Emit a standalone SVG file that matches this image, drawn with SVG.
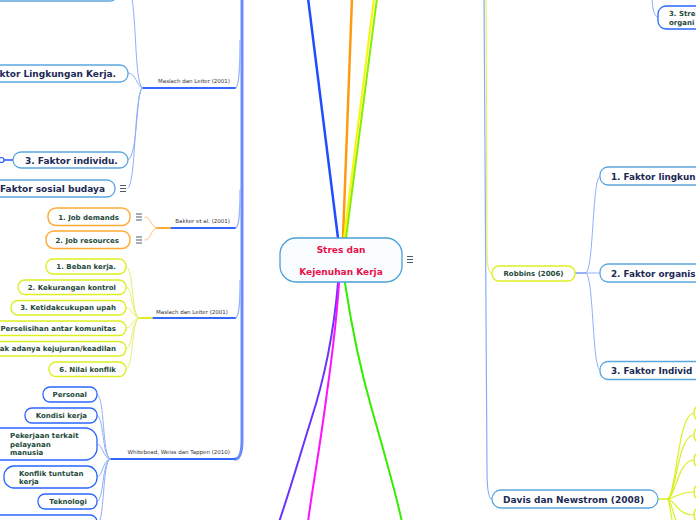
<svg xmlns="http://www.w3.org/2000/svg" width="696" height="520" viewBox="0 0 696 520">
<style>
.bg{fill:#ffffff}
.big{fill:#ffffff;stroke:#5aa6e0;stroke-width:1.3}
.bl{fill:#ffffff;stroke:#2a66ff;stroke-width:1.3}
.yl{fill:#ffffff;stroke:#dcf020;stroke-width:1.4}
.or{fill:#ffffff;stroke:#ffaa33;stroke-width:1.4}
.tbig{font-family:"DejaVu Sans","Verdana",sans-serif;font-weight:bold;font-size:9px;fill:#1c2a55}
.tedge{font-size:8.8px}
.tsm{font-family:"DejaVu Sans","Verdana",sans-serif;font-weight:bold;font-size:7px;fill:#1e4a3c}
.tlab{font-family:"DejaVu Sans","Verdana",sans-serif;font-size:5.5px;fill:#333333}
.tc{font-family:"DejaVu Sans","Verdana",sans-serif;font-weight:bold;font-size:9px;fill:#e8104a}
.c{fill:none;stroke-linecap:round}
.lb{stroke:#8fb0f5;stroke-width:1}
.ly{stroke:#e8f070;stroke-width:1}
.lo{stroke:#ffc070;stroke-width:1}
.ly2{stroke:#d8f020;stroke-width:1.2}
.br{stroke:#3366ff;stroke-width:2}
.ic{stroke:#4a5a6a;stroke-width:1}
</style>
<rect class="bg" x="0" y="0" width="696" height="520"/>
<g id="connectors">
  <path class="c" d="M338 238 L308 -2" stroke="#1f4dff" stroke-width="2.5"/>
  <path class="c" d="M343 238 L352 -2" stroke="#ff9a10" stroke-width="2.5"/>
  <path class="c" d="M344 238 L374 -2" stroke="#f4f800" stroke-width="2"/>
  <path class="c" d="M346 238 L377 -2" stroke="#88ee00" stroke-width="2"/>
  <path class="c" d="M338 283 C334 330 324 380 311 420 C300 455 290 490 279 522" stroke="#6633ff" stroke-width="2"/>
  <path class="c" d="M339 283 C336 330 330 370 326 400 C318 460 312 490 308 522" stroke="#ff10ff" stroke-width="2"/>
  <path class="c" d="M345 283 C352 330 362 375 372 410 C385 455 395 490 402 522" stroke="#33ee00" stroke-width="2"/>
  <path class="c" d="M242 -5 L242 440 C242 452 240 459 235 459" stroke="#6a8cff" stroke-width="3"/>
  <path class="c" d="M240 40 C240 70 239 88 235 88" stroke="#9ab2ff" stroke-width="1.2"/>
  <path class="c" d="M240 190 C240 215 239 228 235 228" stroke="#9ab2ff" stroke-width="1.2"/>
  <path class="c" d="M240 280 C240 305 239 318 235 318" stroke="#9ab2ff" stroke-width="1.2"/>
  <path class="c br" d="M142 88 L235 88"/>
  <path class="c br" d="M170 228 L235 228"/>
  <path class="c" d="M157 228 L170 228" stroke="#ffaa33" stroke-width="2"/>
  <path class="c br" d="M152 318 L235 318"/>
  <path class="c" d="M139 318 L152 318" stroke="#dcf020" stroke-width="2"/>
  <path class="c br" d="M110 459 L235 459"/>
  <path class="c lb" d="M142 88 C134 80 137 10 130 -10"/>
  <path class="c lb" d="M142 88 C136 85 136 73 128 73"/>
  <path class="c lb" d="M142 88 C136 92 138 156 128 160"/>
  <path class="c lb" d="M142 88 C134 96 136 185 128 188"/>
  <path class="c" d="M4 160 L13 160" stroke="#2255ff" stroke-width="1.5"/>
  <path class="c lo" d="M157 228 C150 226 151 217 145 217"/>
  <path class="c lo" d="M157 228 C150 230 151 240 145 240"/>
  <path class="c ly" d="M139 318 C131 316 134 267 126 266.5"/>
  <path class="c ly" d="M139 318 C131 316 133 287 126 287"/>
  <path class="c ly" d="M139 318 C131 316 132 307.5 126 307.5"/>
  <path class="c ly" d="M139 318 C131 320 132 328 126 328"/>
  <path class="c ly" d="M139 318 C131 320 133 348.5 126 348.5"/>
  <path class="c ly" d="M139 318 C131 320 134 369 126 369"/>
  <path class="c lb" d="M110 459 C102 457 105 395 97 394.5"/>
  <path class="c lb" d="M110 459 C102 457 104 415.5 97 415.5"/>
  <path class="c lb" d="M110 459 C102 457 103 444 97 444"/>
  <path class="c lb" d="M110 459 C102 461 103 477 97 477"/>
  <path class="c lb" d="M110 459 C102 461 104 501.5 97 501.5"/>
  <path class="c lb" d="M110 459 C102 461 105 525 97 525"/>
  <path class="c" d="M484 -5 C484 200 486 400 487 470 C487 490 489 499 492 499" stroke="#88aaff" stroke-width="1.2"/>
  <path class="c" d="M486 -5 C486 120 487 200 487 250 C487 265 489 273 492 273" stroke="#eef060" stroke-width="1.2"/>
  <path class="c" d="M652 -5 C652 8 654 17 658 17" stroke="#88aaff" stroke-width="1"/>
  <path class="c" d="M575 273 L586 273" stroke="#3366ff" stroke-width="1.2"/>
  <path class="c lb" d="M586 273 C594 270 592 176 600 176"/>
  <path class="c lb" d="M586 273 L600 273"/>
  <path class="c lb" d="M586 273 C594 276 592 370 600 370"/>
  <path class="c" d="M658 499 L668 499" stroke="#d8f020" stroke-width="1.5"/>
  <path class="c ly2" d="M668 499 C676 495 678 413 694 413"/>
  <path class="c ly2" d="M668 499 C676 495 678 435 694 435"/>
  <path class="c ly2" d="M668 499 C676 496 678 460 694 460"/>
  <path class="c ly2" d="M668 499 C676 497 680 492 694 492"/>
  <path class="c ly2" d="M668 499 C676 502 678 515 694 515"/>
  <path class="c ly2" d="M668 499 C674 505 676 540 694 545"/>
  <path class="c ly2" d="M668 499 C672 508 674 560 690 570"/>
</g>
<g id="node-center">
  <rect x="280" y="238" width="122" height="44" rx="16" fill="#fafdff" stroke="#4a9fd8" stroke-width="1.3"/>
  <text class="tc" x="341" y="253" text-anchor="middle">Stres dan</text>
  <text class="tc" x="341" y="275" text-anchor="middle">Kejenuhan Kerja</text>
  <path class="ic" d="M407 256.5 H413 M407 259.5 H413 M407 262.5 H413"/>
</g>
<g id="node-top-left">
  <rect class="big" x="-20" y="-20" width="138" height="21" rx="8"/>
</g>
<g id="node-lingkungan-kerja">
  <rect class="big" x="-20" y="65" width="148" height="17" rx="8"/>
  <text class="tbig" x="116" y="77" text-anchor="end">ktor Lingkungan Kerja.</text>
</g>
<g id="node-individu">
  <rect class="big" x="13" y="152" width="115" height="16" rx="8"/>
  <text class="tbig" x="25" y="164">3. Faktor individu.</text>
  <circle cx="1.5" cy="160" r="2.5" fill="#ffffff" stroke="#2255ff" stroke-width="1.2"/>
</g>
<g id="node-sosial-budaya">
  <rect class="big" x="-20" y="180" width="135" height="17" rx="8"/>
  <text class="tbig" x="0" y="192">Faktor sosial budaya</text>
  <path class="ic" d="M120 185.5 H126 M120 188.5 H126 M120 191.5 H126"/>
</g>
<g id="label-maslach-1"><text class="tlab" x="230" y="83" text-anchor="end">Maslach dan Leiter (2001)</text></g>
<g id="label-bakker"><text class="tlab" x="230" y="223" text-anchor="end">Bakker et al. (2001)</text></g>
<g id="label-maslach-2"><text class="tlab" x="228" y="314" text-anchor="end">Maslach dan Leiter (2001)</text></g>
<g id="label-whitebead"><text class="tlab" x="230" y="454" text-anchor="end">Whitebead, Weiss dan Tappen (2010)</text></g>
<g id="node-job-demands">
  <rect class="or" x="48" y="208" width="82" height="17.5" rx="8"/>
  <text class="tsm" x="119" y="219.5" text-anchor="end">1. Job demands</text>
  <path class="ic" d="M136 214 H142 M136 217 H142 M136 220 H142"/>
</g>
<g id="node-job-resources">
  <rect class="or" x="46" y="231" width="84" height="17.5" rx="8"/>
  <text class="tsm" x="119" y="242.5" text-anchor="end">2. Job resources</text>
  <path class="ic" d="M136 237 H142 M136 240 H142 M136 243 H142"/>
</g>
<g id="node-beban-kerja">
  <rect class="yl" x="46" y="259" width="80" height="15" rx="7"/>
  <text class="tsm" x="116" y="269" text-anchor="end">1. Beban kerja.</text>
</g>
<g id="node-kekurangan-kontrol">
  <rect class="yl" x="18" y="280" width="108" height="14.5" rx="7"/>
  <text class="tsm" x="116" y="289.8" text-anchor="end">2. Kekurangan kontrol</text>
</g>
<g id="node-ketidakcukupan-upah">
  <rect class="yl" x="11" y="300.5" width="115" height="14.5" rx="7"/>
  <text class="tsm" x="116" y="310.3" text-anchor="end">3. Ketidakcukupan upah</text>
</g>
<g id="node-perselisihan">
  <rect class="yl" x="-20" y="321" width="146" height="14.5" rx="7"/>
  <text class="tsm" x="116" y="330.8" text-anchor="end">Perselisihan antar komunitas</text>
</g>
<g id="node-kejujuran">
  <rect class="yl" x="-20" y="341.5" width="146" height="14.5" rx="7"/>
  <text class="tsm" x="116" y="351.3" text-anchor="end">ak adanya kejujuran/keadilan</text>
</g>
<g id="node-nilai-konflik">
  <rect class="yl" x="49" y="362" width="77" height="14.5" rx="7"/>
  <text class="tsm" x="116" y="371.8" text-anchor="end">6. Nilai konflik</text>
</g>
<g id="node-personal">
  <rect class="bl" x="43" y="387" width="54" height="15" rx="7"/>
  <text class="tsm" x="87" y="397" text-anchor="end">Personal</text>
</g>
<g id="node-kondisi-kerja">
  <rect class="bl" x="25" y="408" width="72" height="15" rx="7"/>
  <text class="tsm" x="87" y="418" text-anchor="end">Kondisi kerja</text>
</g>
<g id="node-pekerjaan">
  <rect class="bl" x="-20" y="428" width="117" height="32" rx="12"/>
  <text class="tsm" x="10" y="437.5">Pekerjaan terkait</text>
  <text class="tsm" x="10" y="446.5">pelayanan</text>
  <text class="tsm" x="10" y="455">manusia</text>
</g>
<g id="node-konflik-tuntutan">
  <rect class="bl" x="4" y="466" width="93" height="22" rx="10"/>
  <text class="tsm" x="19" y="475.5">Konflik tuntutan</text>
  <text class="tsm" x="19" y="484">kerja</text>
</g>
<g id="node-teknologi">
  <rect class="bl" x="38" y="494" width="59" height="15" rx="7"/>
  <text class="tsm" x="87" y="504" text-anchor="end">Teknologi</text>
</g>
<g id="node-bottom-left">
  <rect class="bl" x="-20" y="515" width="117" height="20" rx="7"/>
</g>
<g id="node-stres-organisasi">
  <rect class="bl" x="658" y="6" width="60" height="23" rx="8"/>
  <text class="tsm" x="669" y="16">3. Stre</text>
  <text class="tsm" x="669" y="25">organi</text>
</g>
<g id="node-robbins">
  <rect class="yl" x="492" y="266" width="83" height="15" rx="7"/>
  <text class="tsm" x="533.5" y="276" text-anchor="middle">Robbins (2006)</text>
</g>
<g id="node-faktor-lingkungan">
  <rect class="big" x="600" y="167" width="120" height="18" rx="8"/>
  <text class="tbig tedge" x="611" y="179.5">1. Faktor lingkun</text>
</g>
<g id="node-faktor-organisasi">
  <rect class="big" x="600" y="264" width="120" height="18" rx="8"/>
  <text class="tbig tedge" x="611" y="276.5">2. Faktor organis</text>
</g>
<g id="node-faktor-individu">
  <rect class="big" x="600" y="361.5" width="120" height="18" rx="8"/>
  <text class="tbig tedge" x="611" y="374">3. Faktor Individ</text>
</g>
<g id="node-davis">
  <rect class="big" x="492" y="490" width="166" height="18" rx="9"/>
  <text class="tbig" x="503" y="502.5">Davis dan Newstrom (2008)</text>
</g>
<g id="node-davis-children">
  <rect class="yl" x="694" y="405" width="30" height="16" rx="7"/>
  <rect class="yl" x="694" y="427" width="30" height="16" rx="7"/>
  <rect class="yl" x="694" y="452" width="30" height="16" rx="7"/>
  <rect class="yl" x="694" y="484" width="30" height="16" rx="7"/>
  <rect class="yl" x="694" y="507" width="30" height="16" rx="7"/>
</g>
</svg>
